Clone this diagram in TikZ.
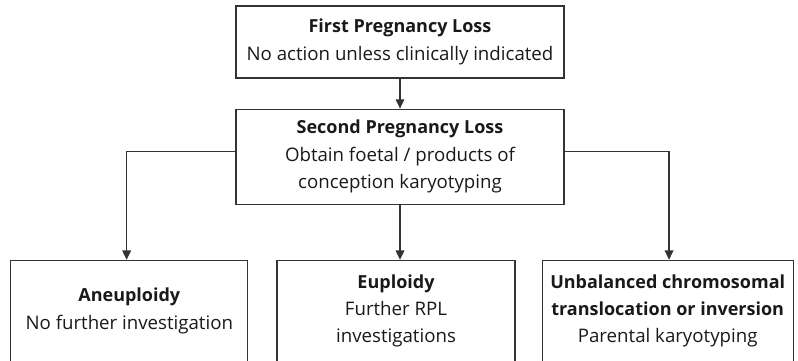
\documentclass[tikz,border=0pt]{standalone}
\usepackage{fontspec}
\setmainfont{Open Sans}
\usetikzlibrary{arrows.meta,positioning}
\newcommand{\boxhead}[1]{{\fontsize{13.5pt}{20.5pt}\selectfont\bfseries #1}}

\begin{document}
\begin{tikzpicture}[
    node distance=22.5pt,
    every node/.style={font=\fontsize{14pt}{20.5pt}\selectfont, text=black!90},
    box/.style={draw=black!80, line width=0.9pt, align=center, inner sep=0pt},
    topbox/.style={box, minimum width=246pt, minimum height=54pt},
    midbox/.style={box, minimum width=246pt, minimum height=71.25pt},
    leafbox/.style={box, minimum height=75.75pt},
    flow/.style={-{Triangle[length=7pt, width=6.5pt]}, line width=0.9pt, draw=black!80}
]
\useasboundingbox (0,0) rectangle (598.5pt,-270pt);
\node[topbox] (first) at (300pt,-31.5pt) {\boxhead{First Pregnancy Loss}\\No action unless clinically indicated};
\node[midbox, below=of first] (second) {\boxhead{Second Pregnancy Loss}\\Obtain foetal / products of\\conception karyotyping};
\node[leafbox, minimum width=178.5pt, below=41.25pt of second, xshift=-3pt] (euploid) {\boxhead{Euploidy}\\Further RPL\\investigations};
\node[leafbox, minimum width=177.75pt, left=21pt of euploid] (aneuploid) {\boxhead{Aneuploidy}\\No further investigation};
\node[leafbox, minimum width=188.25pt, right=19.5pt of euploid] (unbal) {\boxhead{Unbalanced chromosomal}\\\boxhead{translocation or inversion}\\Parental karyotyping};
\coordinate (split) at ([yshift=4pt]second.center);
\draw[flow] (first) -- (second);
\draw[flow] (second.south) -- (second.south |- euploid.north);
\draw[flow] (split -| second.west) -| ([xshift=-2pt]aneuploid.north);
\draw[flow] (split -| second.east) -| ([xshift=1pt]unbal.north);
\end{tikzpicture}
\end{document}
